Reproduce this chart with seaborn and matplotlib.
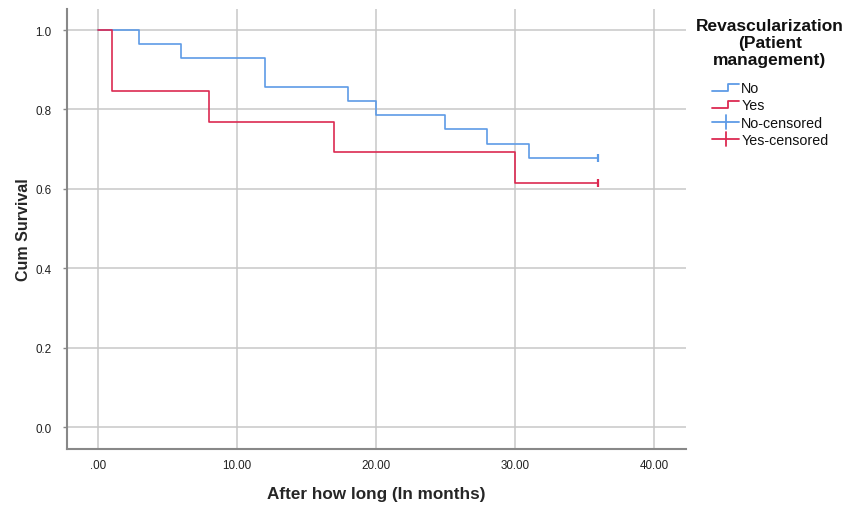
import matplotlib
matplotlib.use("Agg")
import matplotlib.pyplot as plt
import seaborn as sns
import pandas as pd
import numpy as np
from matplotlib.lines import Line2D
from matplotlib.legend_handler import HandlerBase

# ---- data ----
no_times = [0, 3, 6, 12, 18, 20, 25, 28, 31, 36]
no_surv = [1.0, 0.964, 0.929, 0.857, 0.821, 0.786, 0.750, 0.714, 0.679, 0.679]
yes_times = [0, 1, 8, 17, 30, 36]
yes_surv = [1.0, 0.846, 0.769, 0.692, 0.615, 0.615]
no_censor_t = [36]
no_censor_s = [0.679]
yes_censor_t = [36]
yes_censor_s = [0.615]
groups = ["No", "Yes"]
x_ticks = [0, 10, 20, 30, 40]
x_labels = [".00", "10.00", "20.00", "30.00", "40.00"]
y_ticks = [0.0, 0.2, 0.4, 0.6, 0.8, 1.0]
y_labels = ["0.0", "0.2", "0.4", "0.6", "0.8", "1.0"]

BLUE = "#5E9BE6"
RED = "#DC2A52"
palette = {"No": BLUE, "Yes": RED}

sns.set_theme(style="white")
plt.rcParams["font.family"] = ["Liberation Sans", "DejaVu Sans"]

curves = pd.DataFrame({
    "time": no_times + yes_times,
    "surv": no_surv + yes_surv,
    "group": ["No"] * len(no_times) + ["Yes"] * len(yes_times),
})
cens = pd.DataFrame({
    "time": no_censor_t + yes_censor_t,
    "surv": no_censor_s + yes_censor_s,
    "group": ["No"] * len(no_censor_t) + ["Yes"] * len(yes_censor_t),
})

fig = plt.figure(figsize=(8.52, 5.06), dpi=100)
ax = fig.add_axes([67 / 852, 1 - 450 / 506, (686 - 67) / 852, (450 - 10) / 506])

for x in x_ticks:
    ax.axvline(x, color="#C8C8C8", lw=1.1, zorder=0)
for y in y_ticks:
    ax.axhline(y, color="#C8C8C8", lw=1.1, zorder=0)

sns.lineplot(data=curves, x="time", y="surv", hue="group", palette=palette,
             estimator=None, sort=False, drawstyle="steps-post", lw=1.2,
             legend=False, ax=ax, zorder=3)
for g in groups:
    sub = cens[cens.group == g]
    ax.plot(sub.time, sub.surv, linestyle="none", marker="|", markersize=6,
            markeredgewidth=1.6, color=palette[g], zorder=4)

ax.set_xlim(-2.2, 42.3)
ax.set_ylim(-0.055, 1.053)
ax.set_xticks(x_ticks)
ax.set_xticklabels(x_labels)
ax.set_yticks(y_ticks)
ax.set_yticklabels(y_labels)
ax.tick_params(axis="both", labelsize=8.4, colors="#222222")
ax.tick_params(axis="y", left=True, length=3, width=1, color="#888888", pad=8)
ax.tick_params(axis="x", bottom=False, pad=1)
for s in ["top", "right"]:
    ax.spines[s].set_visible(False)
for s in ["left", "bottom"]:
    ax.spines[s].set_color("#888888")
    ax.spines[s].set_linewidth(1.5)

ax.set_xlabel("After how long (In months)", fontsize=12.3, fontweight="bold", labelpad=11)
ax.set_ylabel("Cum Survival", fontsize=11.5, fontweight="bold", labelpad=3)


class StepHandler(HandlerBase):
    def create_artists(self, legend, orig_handle, xdescent, ydescent, width,
                       height, fontsize, trans):
        c = orig_handle.get_color()
        xs = [0, width * 0.6, width * 0.6, width]
        ys = [height * 0.1, height * 0.1, height * 0.85, height * 0.85]
        l = Line2D(np.array(xs) - xdescent, np.array(ys) - ydescent,
                   color=c, lw=1.3, transform=trans)
        return [l]


class CensorHandler(HandlerBase):
    def create_artists(self, legend, orig_handle, xdescent, ydescent, width,
                       height, fontsize, trans):
        c = orig_handle.get_color()
        l1 = Line2D([-xdescent, width - xdescent], [height / 2 - ydescent] * 2,
                    color=c, lw=1.3, transform=trans)
        l2 = Line2D([width / 2 - xdescent] * 2, [-0.2 * height - ydescent, 1.2 * height - ydescent],
                    color=c, lw=1.3, transform=trans)
        return [l1, l2]


fig.text(770 / 852, 1 - 19 / 506, "Revascularization\n(Patient\nmanagement)",
         ha="center", va="top", fontsize=12.5, fontweight="bold",
         linespacing=1.15, color="#111111")

h_no = Line2D([], [], color=BLUE)
h_yes = Line2D([], [], color=RED)
h_noc = Line2D([], [], color=BLUE)
h_yesc = Line2D([], [], color=RED)
leg = fig.legend([h_no, h_yes, h_noc, h_yesc],
                 ["No", "Yes", "No-censored", "Yes-censored"],
                 handler_map={h_no: StepHandler(), h_yes: StepHandler(),
                              h_noc: CensorHandler(), h_yesc: CensorHandler()},
                 loc="upper left", bbox_to_anchor=(702 / 852, 1 - 72 / 506),
                 frameon=False, fontsize=10.3, handlelength=1.9, handletextpad=0.15,
                 labelspacing=0.24, borderpad=0.2)
for t in leg.get_texts():
    t.set_color("#111111")

fig.savefig("out.png", dpi=100)
